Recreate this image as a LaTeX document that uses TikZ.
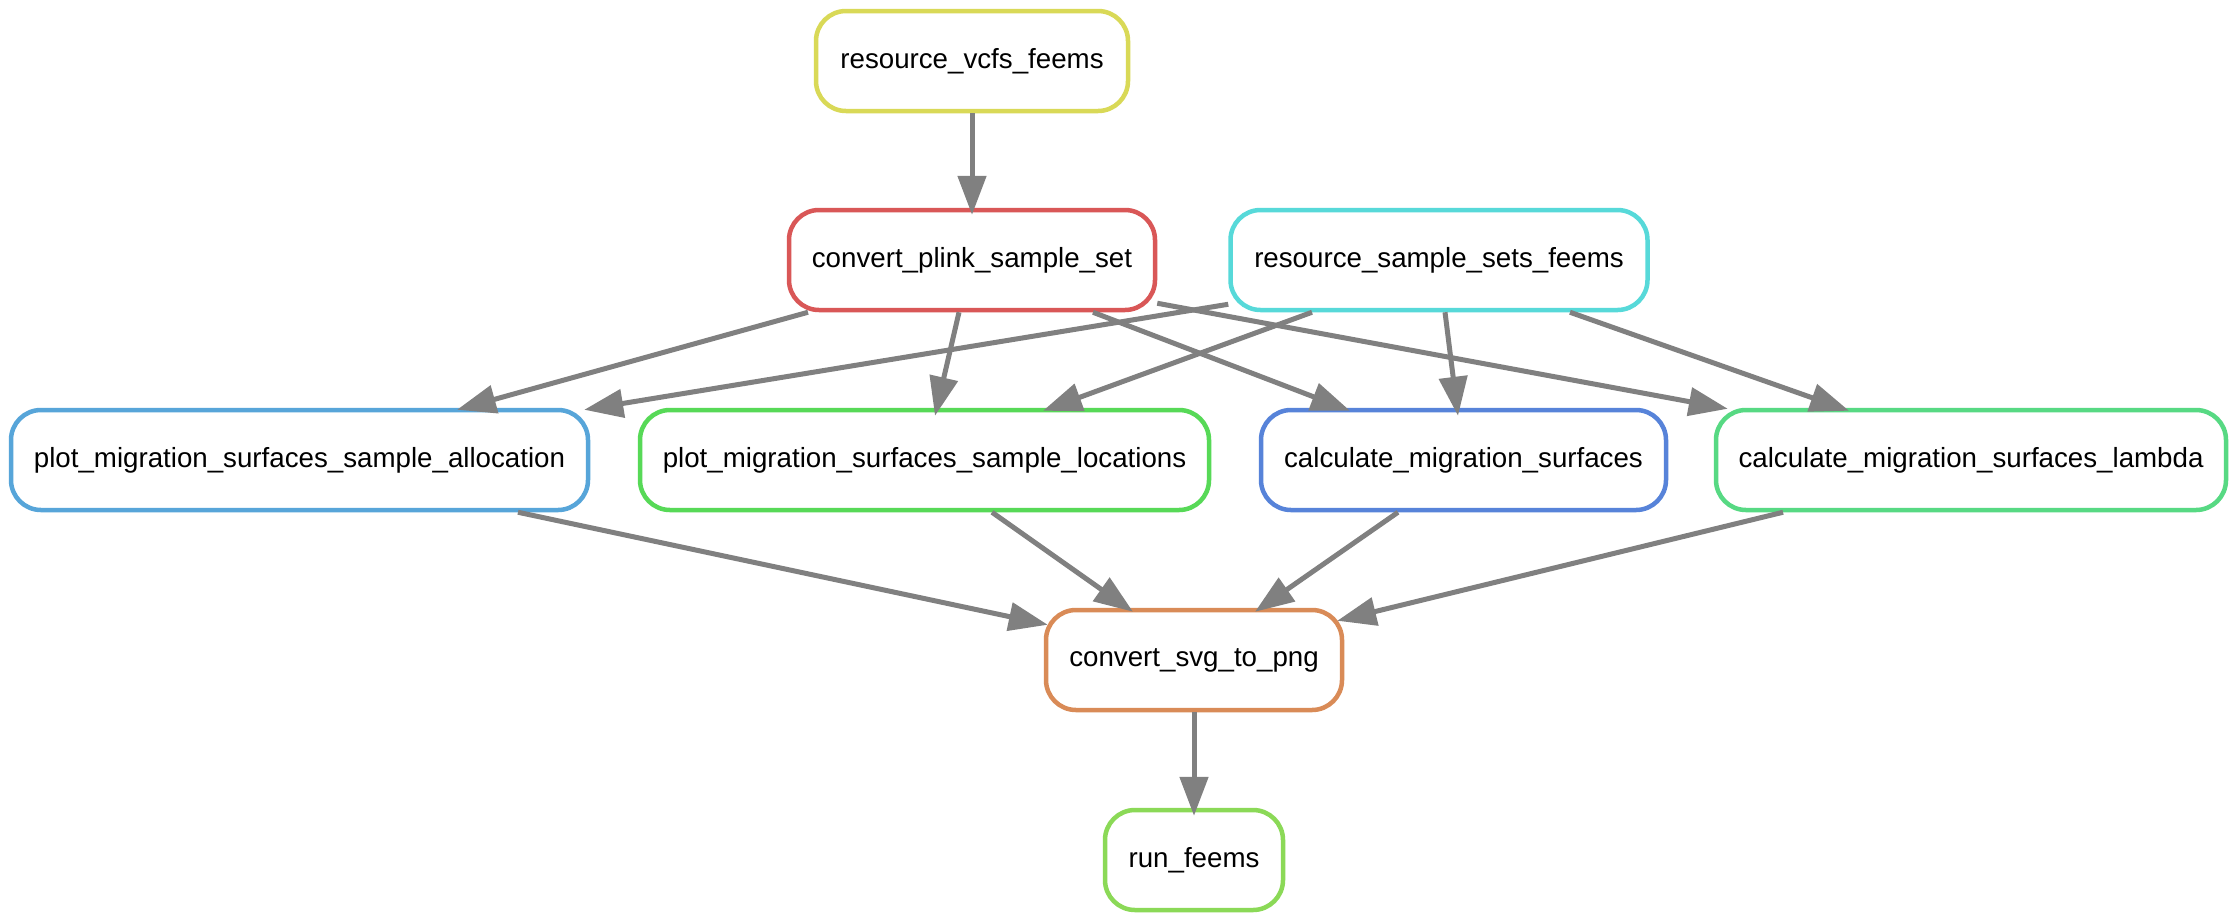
\documentclass[tikz,border=0pt]{standalone}
\usepackage{fontspec}
\setmainfont{Liberation Sans}
\usetikzlibrary{arrows.meta}
\definecolor{cvcfs}{RGB}{217,217,87}
\definecolor{cplink}{RGB}{217,87,87}
\definecolor{csets}{RGB}{87,217,217}
\definecolor{calloc}{RGB}{87,165,217}
\definecolor{cloc}{RGB}{87,217,87}
\definecolor{ccalc}{RGB}{87,131,217}
\definecolor{clambda}{RGB}{87,217,131}
\definecolor{csvg}{RGB}{217,139,87}
\definecolor{crun}{RGB}{139,217,87}
\definecolor{edgegray}{RGB}{128,128,128}
\begin{document}
\begin{tikzpicture}[x=1pt,y=-1pt,
  rulebox/.style={draw, line width=4.5pt, rounded corners=30pt, minimum height=100pt, inner sep=0pt, font=\fontsize{27.7}{33}\selectfont, fill=white},
  conn/.style={draw=edgegray, line width=5pt, -{Triangle[length=39pt,width=28pt]}}]
\fill[white] (0,0) rectangle (2238,922);
\useasboundingbox (0,0) rectangle (2238,922);

\node[rulebox, draw=cvcfs, minimum width=312pt] (vcfs) at (972,61) {resource\_vcfs\_feems};
\node[rulebox, draw=cplink, minimum width=366pt] (plink) at (972,260) {convert\_plink\_sample\_set};
\node[rulebox, draw=csets, minimum width=417pt] (sets) at (1439,260) {resource\_sample\_sets\_feems};
\node[rulebox, draw=calloc, minimum width=577pt] (alloc) at (299.5,460) {plot\_migration\_surfaces\_sample\_allocation};
\node[rulebox, draw=cloc, minimum width=569pt] (loc) at (924.5,460) {plot\_migration\_surfaces\_sample\_locations};
\node[rulebox, draw=ccalc, minimum width=405pt] (calc) at (1463.5,460) {calculate\_migration\_surfaces};
\node[rulebox, draw=clambda, minimum width=510pt] (lambda) at (1971,460) {calculate\_migration\_surfaces\_lambda};
\node[rulebox, draw=csvg, minimum width=296pt] (svg) at (1194,660) {convert\_svg\_to\_png};
\node[rulebox, draw=crun, minimum width=178pt] (run) at (1194,860) {run\_feems};

\draw[conn] (vcfs.south) -- ([yshift=-7pt]plink.north);
\draw[conn] ([xshift=-164pt]plink.south) -- ([xshift=157.5pt,yshift=-2pt]alloc.north);
\draw[conn] ([yshift=8pt]sets.south west) -- ([xshift=-6pt,yshift=-2pt]alloc.north east);
\draw[conn] ([xshift=-13pt]plink.south) -- ([xshift=10.5pt,yshift=-8pt]loc.north);
\draw[conn] ([xshift=-127pt]sets.south) -- ([xshift=118.5pt,yshift=-3pt]loc.north);
\draw[conn] ([xshift=121pt]plink.south) -- ([xshift=-113.5pt,yshift=-3pt]calc.north);
\draw[conn] ([xshift=6pt]sets.south) -- ([xshift=-5.5pt,yshift=-8pt]calc.north);
\draw[conn] ([yshift=9pt]plink.south east) -- ([xshift=14pt,yshift=-1pt]lambda.north west);
\draw[conn] ([xshift=131pt]sets.south) -- ([xshift=-122pt,yshift=-3pt]lambda.north);
\draw[conn] ([xshift=218.5pt]alloc.south) -- ([xshift=4pt,yshift=-17pt]svg.north west);
\draw[conn] ([xshift=67.5pt]loc.south) -- ([xshift=-61pt,yshift=-4pt]svg.north);
\draw[conn] ([xshift=-65.5pt]calc.south) -- ([xshift=61pt,yshift=-4pt]svg.north);
\draw[conn] ([xshift=-188pt]lambda.south) -- ([xshift=-7pt,yshift=-13pt]svg.north east);
\draw[conn] (svg.south) -- ([yshift=-8pt]run.north);
\end{tikzpicture}
\end{document}
